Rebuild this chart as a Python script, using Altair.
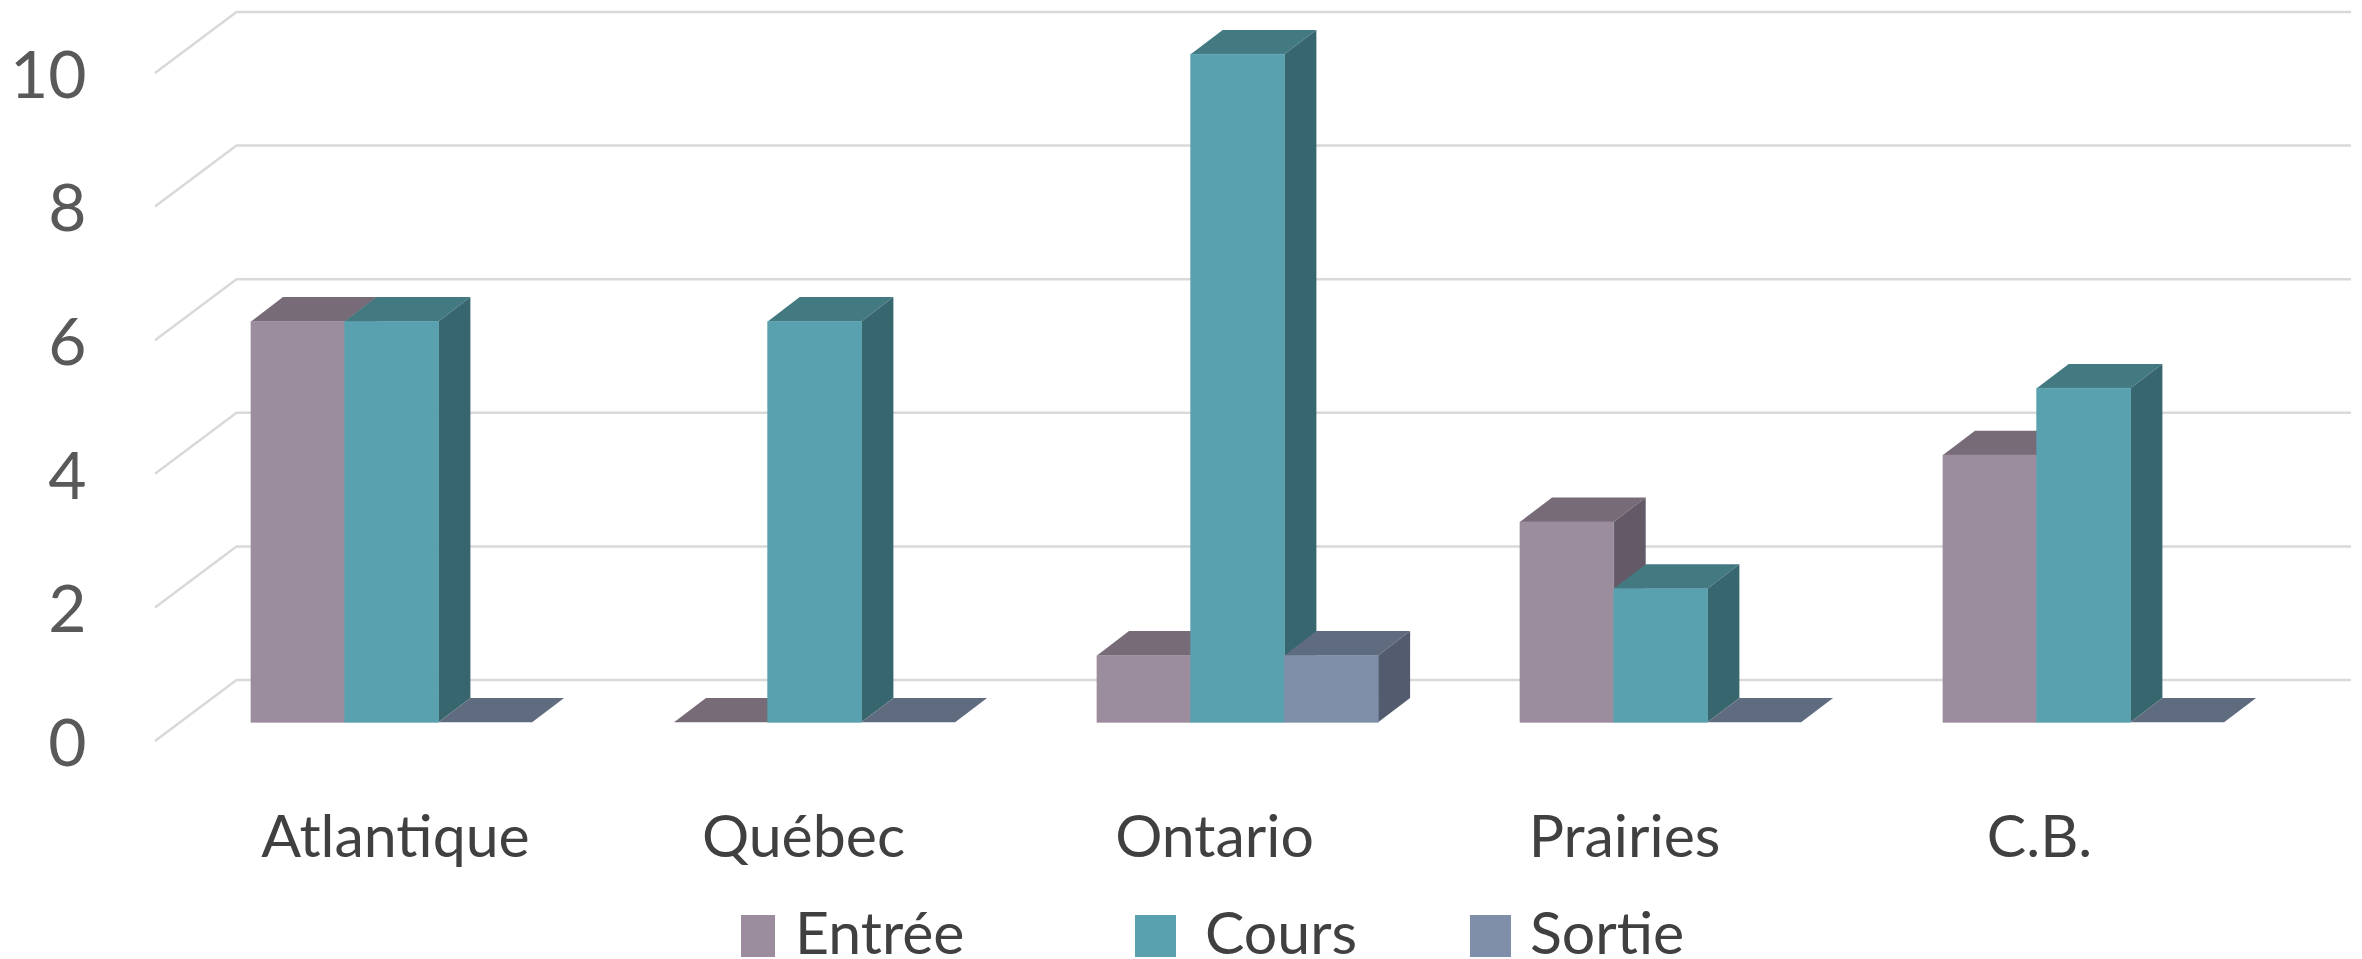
import json
import altair as alt
import pandas as pd

categories = ["Atlantique", "Québec", "Ontario", "Prairies", "C.B."]
entree = [6, 0, 1, 3, 4]
cours = [6, 6, 10, 2, 5]
sortie = [0, 0, 1, 0, 0]
series_names = ["Entrée", "Cours", "Sortie"]
y_ticks = [0, 2, 4, 6, 8, 10]

FONT = "Lato"
PX_LEFT, PX_TOP, PX_RIGHT, PX_BOTTOM = 100, 8, 2354, 770
PX_X0, PX_UX = 251.0, 423.0
PX_Y0, PX_UY = 722.3, 66.8

BAR_W = 93.7 / PX_UX
DX = 32 / PX_UX
DY = 24.4 / PX_UY

values = [entree, cours, sortie]
front_col = ["#9C8D9E", "#5AA1B0", "#7F8EA9"]
top_col = ["#776B78", "#437A82", "#5F6C80"]
side_col = ["#645A67", "#38666E", "#535C6E"]

x_scale = alt.Scale(domain=[(PX_LEFT - PX_X0) / PX_UX, (PX_RIGHT - PX_X0) / PX_UX], nice=False, zero=False)
y_scale = alt.Scale(domain=[(PX_Y0 - PX_BOTTOM) / PX_UY, (PX_Y0 - PX_TOP) / PX_UY], nice=False, zero=False)

label_centers = [(px - PX_X0) / PX_UX for px in [395, 803, 1214, 1624, 2039]]
label_start = label_centers[0]
label_step = (label_centers[-1] - label_centers[0]) / 4
label_expr = f"{json.dumps(categories, ensure_ascii=False)}[round((datum.value - {label_start}) / {label_step})]"

x_axis = alt.Axis(values=label_centers, labelExpr=label_expr, title=None, grid=False, domain=False, ticks=False,
                  labelFont=FONT, labelFontSize=59, labelColor="#404040", labelPadding=39, labelAngle=0,
                  labelOverlap=False, labelFlush=False, labelLimit=600)
y_axis = alt.Axis(values=y_ticks, format="d", title=None, grid=False, domain=False, ticks=False,
                  labelFont=FONT, labelFontSize=66, labelColor="#595959", labelPadding=14, labelOffset=23,
                  labelOverlap=False, labelFlush=False)

# walls: slanted line from the front of the floor to the back wall, then along it
FRONT_U = (155 - PX_X0) / PX_UX
BACK_U = (236.5 - PX_X0) / PX_UX
END_U = (2351 - PX_X0) / PX_UX
FRONT_V = (PX_Y0 - 741) / PX_UY
BACK_V = (PX_Y0 - 680) / PX_UY
grid_rows = []
for t in y_ticks:
    grid_rows += [
        {"tick": t, "u": FRONT_U, "v": t + FRONT_V},
        {"tick": t, "u": BACK_U, "v": t + BACK_V},
        {"tick": t, "u": END_U, "v": t + BACK_V},
    ]
grid = alt.Chart(pd.DataFrame(grid_rows)).mark_line(stroke="#D9D9D9", strokeWidth=2.5).encode(
    x=alt.X("u:Q", scale=x_scale, axis=x_axis),
    y=alt.Y("v:Q", scale=y_scale, axis=y_axis),
    detail="tick:N",
)

layers = [grid]
for s, name in enumerate(series_names):
    tops, sides, fronts = [], [], []
    for c, cat in enumerate(categories):
        v = values[s][c]
        x0 = c + s * BAR_W
        x1 = x0 + BAR_W
        tops += [
            {"cat": cat, "v": v, "a": x0, "b": x1},
            {"cat": cat, "v": v + DY, "a": x0 + DX, "b": x1 + DX},
        ]
        if v > 0:
            sides += [
                {"cat": cat, "u": x1, "hi": v, "lo": 0},
                {"cat": cat, "u": x1 + DX, "hi": v + DY, "lo": DY},
            ]
            fronts.append({"cat": cat, "a": x0, "b": x1, "v": v, "base": 0})
    layers.append(
        alt.Chart(pd.DataFrame(tops)).mark_area(orient="horizontal", color=top_col[s]).encode(
            y=alt.Y("v:Q", scale=y_scale, stack=None),
            x=alt.X("a:Q", scale=x_scale),
            x2="b:Q",
            detail="cat:N",
        )
    )
    layers.append(
        alt.Chart(pd.DataFrame(sides)).mark_area(orient="vertical", color=side_col[s]).encode(
            x=alt.X("u:Q", scale=x_scale),
            y=alt.Y("hi:Q", scale=y_scale, stack=None),
            y2="lo:Q",
            detail="cat:N",
        )
    )
    layers.append(
        alt.Chart(pd.DataFrame(fronts)).mark_rect(color=front_col[s], stroke=front_col[s], strokeWidth=0.7).encode(
            x=alt.X("a:Q", scale=x_scale),
            x2="b:Q",
            y=alt.Y("v:Q", scale=y_scale),
            y2="base:Q",
        )
    )

# legend, placed by hand because its entries are unevenly spaced
legend_swatch_px = [(741, 775), (1135, 1176), (1470, 1511)]
legend_text_px = [795, 1205, 1530]
for s, name in enumerate(series_names):
    sx0, sx1 = legend_swatch_px[s]
    layers.append(
        alt.Chart(pd.DataFrame({"n": [name]})).mark_rect(color=front_col[s]).encode(
            x=alt.value(sx0 - PX_LEFT), x2=alt.value(sx1 - PX_LEFT),
            y=alt.value(915 - PX_TOP), y2=alt.value(957 - PX_TOP),
        )
    )
    layers.append(
        alt.Chart(pd.DataFrame({"n": [name]})).mark_text(
            font=FONT, fontSize=59, color="#404040", align="left", baseline="alphabetic"
        ).encode(
            x=alt.value(legend_text_px[s] - PX_LEFT),
            y=alt.value(954 - PX_TOP),
            text="n:N",
        )
    )

chart = alt.layer(*layers).properties(
    width=PX_RIGHT - PX_LEFT,
    height=PX_BOTTOM - PX_TOP,
    autosize="none",
    padding={"left": PX_LEFT - 8, "top": 0, "right": 0, "bottom": 959 - PX_BOTTOM},
).configure_view(stroke=None)

chart.save("out.html", embed_options={"renderer": "svg", "actions": False})
